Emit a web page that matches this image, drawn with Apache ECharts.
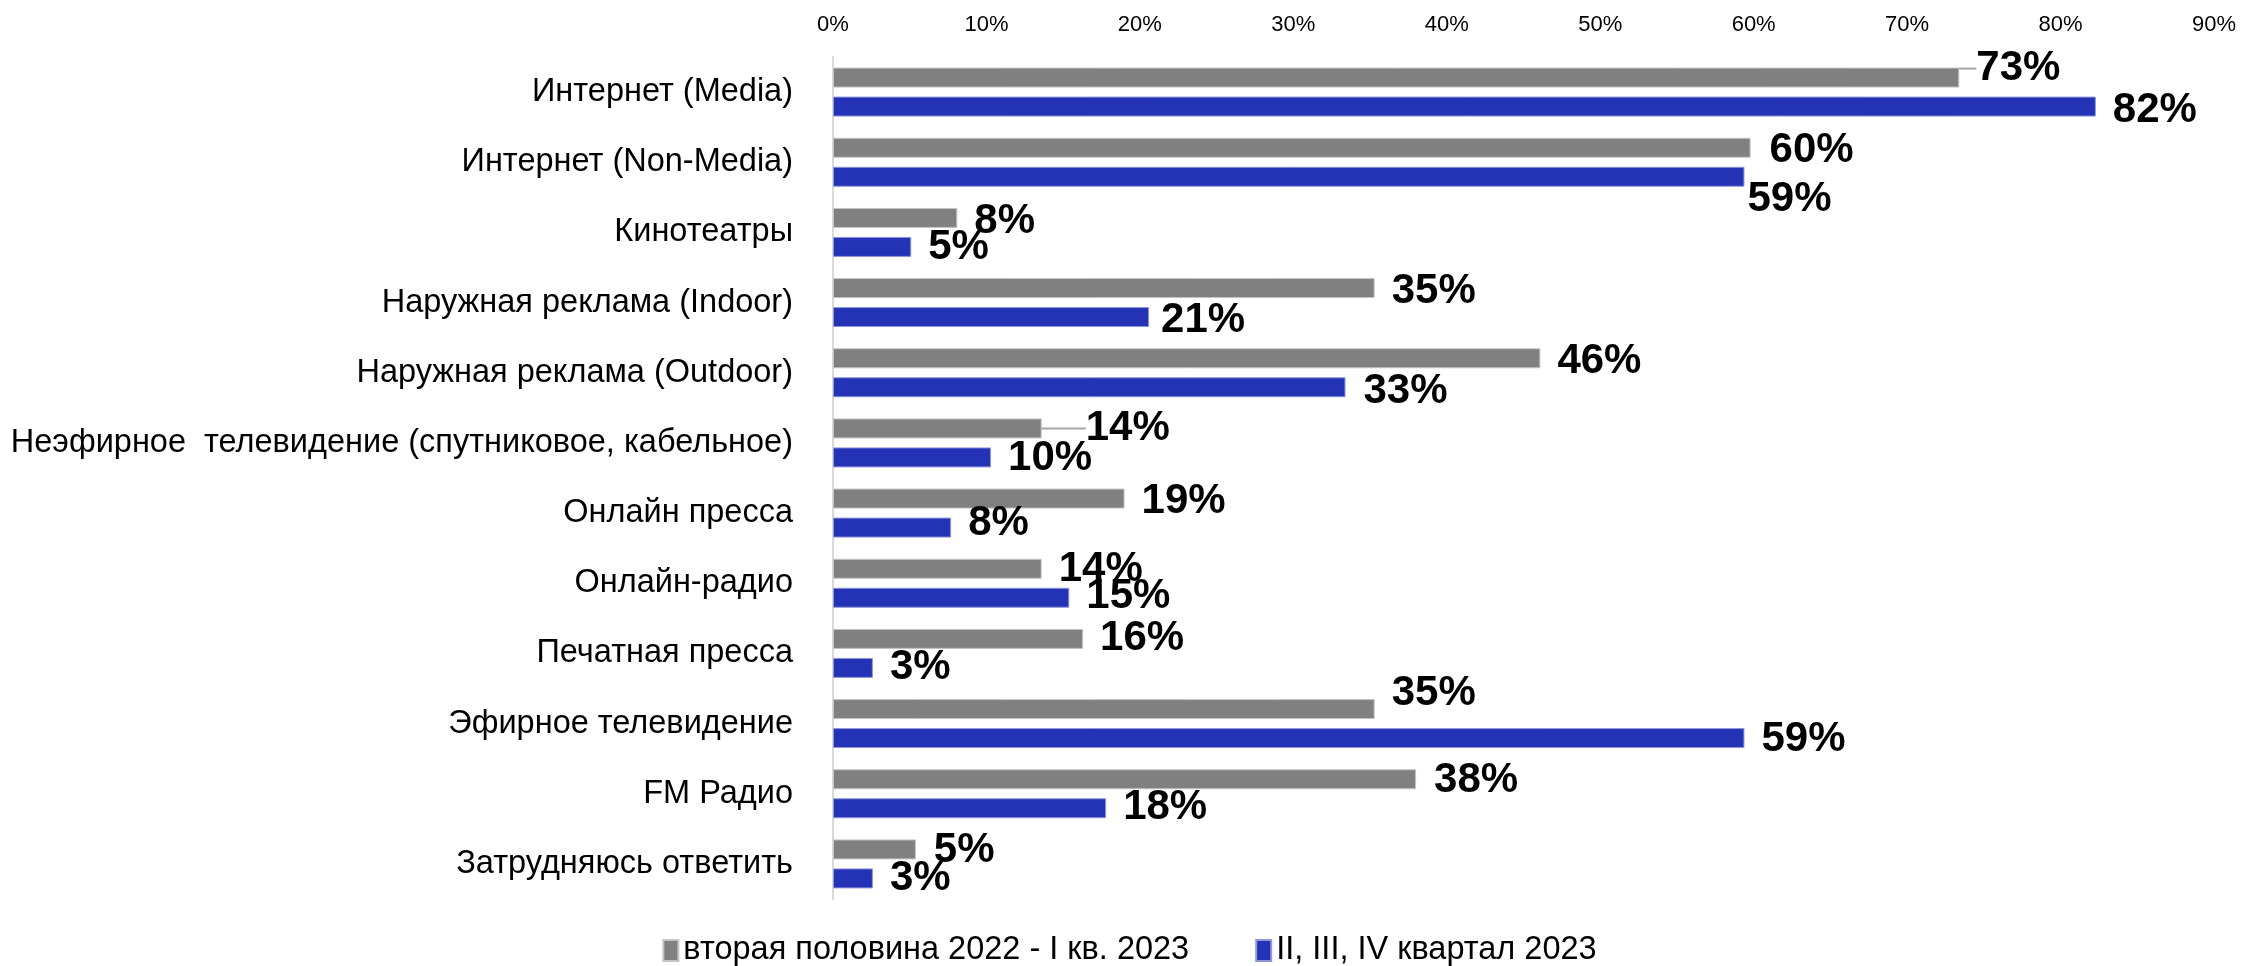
<!DOCTYPE html>
<html><head><meta charset="utf-8">
<script src="https://cdn.jsdelivr.net/npm/echarts@6/dist/echarts.min.js"></script>
<style>html,body{margin:0;padding:0;background:#fff}#c{width:2259px;height:966px}</style>
</head><body><div id="c"></div>
<script>
const categories = [
  'Интернет (Media)',
  'Интернет (Non-Media)',
  'Кинотеатры',
  'Наружная реклама (Indoor)',
  'Наружная реклама (Outdoor)',
  'Неэфирное  телевидение (спутниковое, кабельное)',
  'Онлайн пресса',
  'Онлайн-радио',
  'Печатная пресса',
  'Эфирное телевидение',
  'FM Радио',
  'Затрудняюсь ответить'
];
const seriesNames = ['вторая половина 2022 - I кв. 2023', 'II, III, IV квартал 2023'];
const valuesPrev = [73.4, 59.8, 8.1, 35.3, 46.1, 13.6, 19.0, 13.6, 16.3, 35.3, 38.0, 5.4];
const valuesCur  = [82.3, 59.4, 5.1, 20.6, 33.4, 10.3, 7.7, 15.4, 2.6, 59.4, 17.8, 2.6];
const xTicks = [0, 10, 20, 30, 40, 50, 60, 70, 80, 90];

// label nudges (layout only)
const nudgePrev = [[0,-9],[2,3],[0,4],[0,3],[0,3],[27,0],[0,3],[0,1],[0,0],[0,-16],[1,1],[1,1]];
const nudgeCur  = [[0,4],[-14,23],[0,1],[-5,3],[1,4],[0,1],[0,-4],[0,-1],[0,0],[0,1],[0,-1],[0,0]];
const leaderPrev = [0, 5];

const colors = ['#808080', '#2433B5'];
const borders = ['#c4c4c4', '#8f97da'];
const catFont = 'Liberation Sans Narrow, Liberation Sans, sans-serif';

function mk(vals, idx) {
  return vals.map((v, i) => {
    const item = { value: v };
    if (idx === 0 && leaderPrev.includes(i)) item.labelLine = { show: true };
    return item;
  });
}

const chart = echarts.init(document.getElementById('c'));
chart.setOption({
  animation: false,
  color: colors,
  grid: { left: 833, right: 45, top: 57, bottom: 67 },
  xAxis: {
    type: 'value', position: 'top', min: 0, max: xTicks[xTicks.length - 1], interval: 10,
    axisLine: { show: false }, axisTick: { show: false }, splitLine: { show: false },
    axisLabel: { formatter: '{value}%', fontFamily: catFont, fontSize: 22, color: '#000', margin: 21 }
  },
  yAxis: {
    type: 'category', data: categories, inverse: true,
    axisLine: { show: true, lineStyle: { color: '#d9d9d9', width: 2 } },
    axisTick: { show: false },
    axisLabel: { fontFamily: catFont, fontSize: 32.5, color: '#000', margin: 40 }
  },
  legend: {
    top: 929, left: 'center', itemWidth: 15, itemHeight: 21, itemGap: 66,
    icon: 'rect',
    textStyle: { fontFamily: catFont, fontSize: 32.5, color: '#000' },
    data: seriesNames
  },
  series: [0, 1].map(s => ({
    type: 'bar', name: seriesNames[s],
    data: mk(s === 0 ? valuesPrev : valuesCur, s),
    barWidth: 20, barGap: '45%',
    itemStyle: { color: colors[s], borderColor: borders[s], borderWidth: 1 },
    label: {
      show: true, position: 'right', distance: 17,
      formatter: p => Math.round(p.value) + '%',
      fontFamily: catFont, fontWeight: 'bold', fontSize: 42, color: '#000'
    },
    labelLine: { show: false, lineStyle: { color: '#a6a6a6', width: 2 } },
    labelLayout: p => {
      const n = (s === 0 ? nudgePrev : nudgeCur)[p.dataIndex];
      return { dx: n[0], dy: n[1] };
    }
  }))
});
</script></body></html>
